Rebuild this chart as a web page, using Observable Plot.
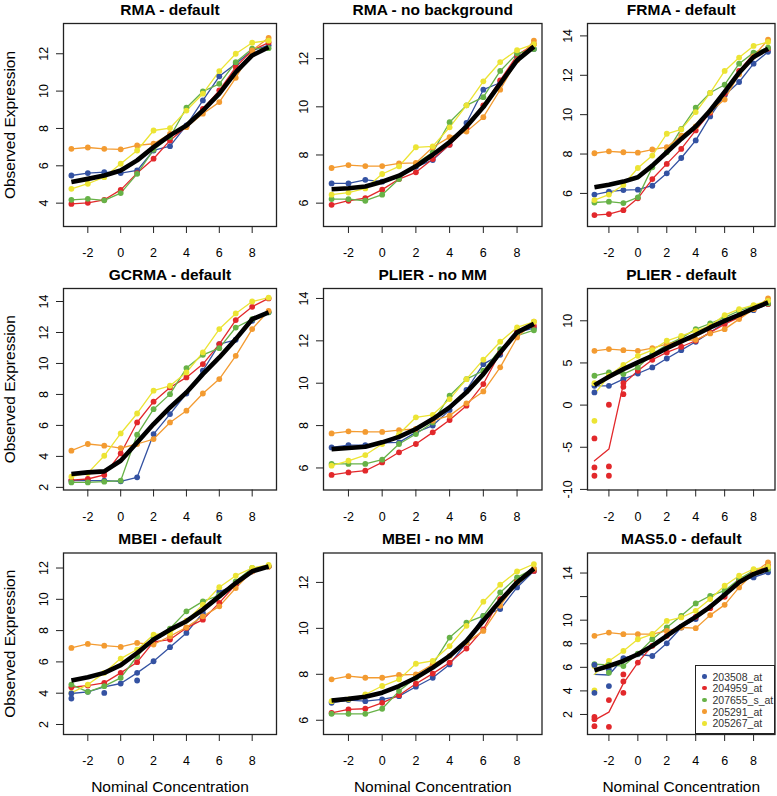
<!DOCTYPE html>
<html><head><meta charset="utf-8">
<script src="https://cdn.jsdelivr.net/npm/d3@7"></script>
<script src="https://cdn.jsdelivr.net/npm/@observablehq/plot@0.6"></script>
<style>
body{margin:0;background:#fff;font-family:"Liberation Sans",Arial,sans-serif;}
#chart{position:relative;width:777px;height:796px;overflow:hidden;}
#chart svg{position:absolute;}
.legend{position:absolute;background:#fff;border:1.3px solid #222;box-sizing:border-box;font-size:10.5px;color:#333;}
.legend .row{position:absolute;left:0;white-space:nowrap;line-height:12px;}
.legend .dot{position:absolute;width:4.5px;height:4.5px;border-radius:50%;top:3.8px;}
</style></head><body><div id="chart"></div><script>
const concentrations = [-3,-2,-1,0,1,2,3,4,5,6,7,8,9];
const probes = ["203508_at","204959_at","207655_s_at","205291_at","205267_at"];
const probeColors = ["#3452A2","#E2282B","#67B247","#F39B31","#ECE434"];
const xTicks = [-2,0,2,4,6,8];

// rows: 203508_at (blue), 204959_at (red), 207655_s_at (green), 205291_at (orange), 205267_at (yellow), mean (black)
const rmaDefault = [
  [5.48,5.61,5.66,5.61,5.75,6.82,7.05,8.16,9.5,10.79,11.46,12.18,12.45],
  [3.96,4.02,4.18,4.71,5.61,6.38,7.36,8.11,9.05,10.04,11.29,12.18,12.6],
  [4.18,4.23,4.15,4.54,5.57,6.86,7.54,9.11,9.98,10.39,11.55,12.27,12.3],
  [6.91,6.98,6.91,6.88,7.09,7.18,7.71,8.07,8.79,9.41,10.71,12.18,12.85],
  [4.77,5.04,5.39,6.11,6.82,7.89,8.02,8.96,9.86,11.07,12.0,12.59,12.7],
  [5.13,5.3,5.48,5.75,6.29,7.0,7.63,8.16,8.96,9.86,11.02,11.91,12.35]
];
const rmaNoBackground = [
  [6.82,6.82,6.97,6.89,7.07,7.51,7.79,8.43,9.33,10.71,11.0,12.07,12.4],
  [5.93,6.1,6.21,6.56,7.0,7.28,7.83,8.42,9.11,10.06,11.1,12.14,12.6],
  [6.17,6.17,6.1,6.35,7.0,7.63,8.11,9.36,10.06,10.4,11.49,12.21,12.4],
  [7.46,7.58,7.54,7.54,7.65,7.67,8.32,8.74,8.97,9.57,10.71,11.93,12.75],
  [6.35,6.44,6.61,7.21,7.53,8.32,8.36,9.15,10.06,11.06,11.86,12.35,12.6],
  [6.58,6.62,6.69,6.89,7.14,7.53,8.01,8.53,9.18,9.99,10.96,11.93,12.5]
];
const frmaDefault = [
  [5.94,6.09,6.17,6.19,6.39,7.02,7.8,8.69,9.91,10.98,11.66,12.59,13.19],
  [4.9,4.95,5.15,5.75,6.73,7.5,8.26,9.2,10.1,11.06,12.22,13.1,13.35],
  [5.54,5.58,5.51,5.8,7.33,8.09,9.28,10.35,11.11,11.52,12.59,13.15,13.4],
  [8.04,8.14,8.09,8.07,8.23,8.35,8.94,9.4,10.16,10.77,12.05,12.96,13.81],
  [5.66,5.94,6.43,7.29,7.92,9.03,9.25,10.13,11.11,12.22,12.9,13.49,13.69],
  [6.31,6.44,6.6,6.82,7.41,8.09,8.77,9.4,10.21,11.15,12.13,12.93,13.35]
];
const gcrmaDefault = [
  [2.43,2.43,2.43,2.39,2.65,5.44,6.73,8.06,9.53,11.25,11.53,12.75,13.3],
  [2.47,2.54,2.8,4.19,6.19,7.53,8.45,9.1,9.96,11.25,12.8,13.66,14.2],
  [2.32,2.32,2.37,2.43,5.4,7.05,8.02,9.7,10.56,10.99,12.32,12.86,13.3],
  [4.37,4.8,4.69,4.54,4.8,5.12,6.19,6.95,8.06,8.99,10.49,12.22,13.4],
  [2.69,2.92,4.04,5.48,6.77,8.24,8.56,9.42,10.71,12.22,13.23,14.0,14.25],
  [2.86,2.97,3.03,3.72,4.9,6.09,7.16,8.13,9.31,10.39,11.57,12.86,13.3]
];
const plierNoMM = [
  [6.97,7.08,7.08,7.18,7.21,7.68,8.0,8.73,9.68,10.9,11.34,12.4,12.6],
  [5.67,5.79,5.87,6.26,6.74,7.13,7.68,8.26,8.94,9.96,11.45,12.4,12.7],
  [6.19,6.19,6.19,6.39,7.13,7.6,8.15,9.41,10.19,10.59,11.61,12.24,12.5],
  [7.63,7.73,7.7,7.7,7.79,7.84,8.23,8.47,9.05,9.61,10.75,12.16,12.9],
  [6.11,6.34,6.61,7.13,7.6,8.39,8.51,9.25,10.19,11.11,11.96,12.63,12.9],
  [6.89,6.94,7.0,7.21,7.47,7.84,8.31,8.86,9.57,10.43,11.45,12.4,12.8]
];
const plierDefault = [
  [2.29,2.29,3.08,3.75,4.47,5.53,6.52,7.51,8.62,9.8,10.59,11.26,11.98],
  [-6.6,-5.22,2.49,4.07,5.38,6.25,6.92,7.63,8.62,9.6,10.4,11.38,11.98],
  [3.48,3.87,3.68,4.47,6.05,7.15,7.94,9.01,9.68,10.4,11.19,11.78,12.06],
  [6.44,6.64,6.52,6.44,6.76,7.23,7.63,7.75,8.5,9.01,10.2,11.38,12.65],
  [1.3,3.48,4.78,5.85,6.52,7.63,8.22,8.81,9.41,10.67,11.38,11.86,12.37],
  [2.37,3.36,4.27,5.06,5.85,6.76,7.55,8.34,9.21,10.0,10.71,11.46,12.17]
];
const mbeiDefault = [
  [3.98,4.09,4.4,4.62,5.3,6.04,6.94,7.85,9.13,10.47,10.94,11.79,12.1],
  [4.38,4.49,4.66,5.3,5.98,7.28,7.43,8.17,8.7,9.77,10.94,11.79,12.1],
  [4.55,4.09,4.45,4.98,6.36,7.53,8.13,9.23,9.87,10.26,11.15,12.0,12.1],
  [6.89,7.15,7.04,6.96,7.21,7.11,7.64,8.21,8.91,9.55,10.72,11.79,12.1],
  [4.02,4.55,5.3,6.21,6.79,7.74,7.85,8.64,9.66,10.77,11.51,12.0,12.2],
  [4.81,5.02,5.3,5.79,6.57,7.43,8.06,8.6,9.34,10.19,11.04,11.79,12.1]
];
const mbeiNoMM = [
  [6.76,6.88,6.83,6.91,7.05,7.46,7.85,8.43,9.38,10.54,10.84,11.78,12.5],
  [6.32,6.47,6.5,6.76,7.09,7.59,8.03,8.51,9.12,9.96,11.27,12.07,12.5],
  [6.28,6.28,6.28,6.5,7.27,7.85,8.43,9.6,10.25,10.54,11.56,12.22,12.6],
  [7.78,7.92,7.85,7.85,7.97,8.0,8.43,8.8,9.38,9.89,10.98,12.0,12.6],
  [6.83,6.91,7.12,7.49,7.78,8.46,8.58,9.23,10.11,11.16,11.9,12.48,12.8],
  [6.86,6.93,7.02,7.2,7.49,7.85,8.29,8.8,9.45,10.33,11.2,12.0,12.6]
];
const mas5Default = [
  [5.4,5.35,6.77,7.11,6.96,8.04,9.38,10.09,11.08,12.21,13.35,13.63,14.06],
  [1.52,2.2,4.64,6.4,7.82,8.67,9.43,10.28,11.02,11.99,13.35,14.06,14.62],
  [6.26,6.2,6.11,7.16,8.38,9.38,10.37,11.42,12.07,12.5,13.49,14.2,14.34],
  [8.67,8.95,8.81,8.81,8.81,9.09,9.38,9.32,10.43,11.3,12.78,14.0,14.91],
  [5.4,6.54,7.39,8.38,8.81,9.94,10.23,10.79,11.79,12.92,13.77,14.34,14.54],
  [5.74,6.11,6.54,7.11,7.82,8.67,9.52,10.28,11.13,12.16,13.21,13.91,14.34]
];

// individual replicate points where they differ from the line: [series, concentration, value]
const plierDefaultPoints = [
  [0,-3,2.29],[0,-3,1.5],
  [4,-3,2.6],[4,-3,-1.86],
  [1,-3,-3.95],[1,-3,-7.39],[1,-3,-8.38],
  [1,-2,0.04],[1,-2,-7.27],[1,-2,-8.38],
  [1,-1,1.3],[1,-1,2.17],[1,-1,2.61]
];
const mas5Points = [
  [4,-3,6.11],[4,-3,4.04],
  [0,-3,6.2],[0,-3,3.84],[0,-2,5.8],[0,-2,4.41],
  [1,-3,1.8],[1,-3,1.6],[1,-3,1.01],
  [1,-2,3.22],[1,-2,0.95],
  [1,-1,5.4],[1,-1,4.8],[1,-1,3.84],
  [2,-2,6.2],[2,-2,5.55]
];
const mbeiDefaultPoints = [
  [0,-3,3.98],[0,-3,3.66],[0,-1,4.02],[0,1,5.3],[0,1,4.81]
];

const panelTitles = ["RMA - default","RMA - no background","FRMA - default","GCRMA - default","PLIER - no MM","PLIER - default","MBEI - default","MBEI - no MM","MAS5.0 - default"];
const panelData = [rmaDefault, rmaNoBackground, frmaDefault, gcrmaDefault, plierNoMM, plierDefault, mbeiDefault, mbeiNoMM, mas5Default];
const panelPoints = [[],[],[],[],[],plierDefaultPoints,mbeiDefaultPoints,[],mas5Points];
const panelYDomains = [[2.75,13.62],[5.03,13.46],[4.32,14.63],[1.83,14.84],[4.96,14.47],[-10.07,13.83],[1.36,12.96],[5.38,13.28],[0.30,15.7]];
const panelYTicks = [[4,6,8,10,12],[6,8,10,12],[6,8,10,12,14],[2,4,6,8,10,12,14],[6,8,10,12,14],[-10,-5,0,5,10],[2,4,6,8,10,12],[6,8,10,12],[2,4,6,8,10,12,14]];
const panelHiddenTickLabels = [[],[],[],[],[],[],[],[],[12]];

const chart = document.getElementById("chart");
const colSvgLeft = [0,280,545], colMarginLeft = [63,43,42], colBoxW = [213,218.5,187.5];
const rowSvgTop = [0,261,519.5], rowMarginTop = [23,27,32.5], rowBoxH = [203,201.5,181.5], rowMarginBottom = [35,30,62.5];
const font = "'Liberation Sans', Arial, sans-serif";

panelData.forEach((data, i) => {
  const col = i % 3, row = Math.floor(i / 3);
  const lineData = [], meanData = [], dotData = [];
  const pts = panelPoints[i];
  data.forEach((vals, si) => vals.forEach((v, k) => {
    const x = concentrations[k];
    if (si === 5) { meanData.push({x, y: v}); return; }
    lineData.push({probe: probes[si], x, y: v});
    if (!pts.some(p => p[0] === si && p[1] === x)) dotData.push({probe: probes[si], x, y: v});
  }));
  pts.forEach(([si, x, y]) => dotData.push({probe: probes[si], x, y}));
  const hidden = panelHiddenTickLabels[i];
  const marks = [
    Plot.line(lineData, {x: "x", y: "y", z: "probe", stroke: "probe", strokeWidth: 1.3}),
    Plot.dot(dotData, {x: "x", y: "y", fill: "probe", r: 2.9}),
    Plot.line(meanData, {x: "x", y: "y", stroke: "black", strokeWidth: 4.6, strokeLinejoin: "round", strokeLinecap: "butt"}),
    Plot.frame({stroke: "#222", strokeWidth: 1.3}),
    Plot.axisX(xTicks, {tickSize: 7, tickPadding: 15, tickFormat: d => String(d), fontSize: 12.5, stroke: "#222"}),
    Plot.axisY(panelYTicks[i], {tickSize: 7, tickRotate: -90, tickPadding: 9, tickFormat: d => hidden.includes(d) ? "" : String(d), fontSize: 12.5, stroke: "#222"}),
    Plot.text([panelTitles[i]], {text: d => d, frameAnchor: "top", dy: -13.5, fontWeight: "bold", fontSize: 15.5, lineAnchor: "middle"})
  ];
  if (col === 0) marks.push(Plot.text(["Observed Expression"], {text: d => d, frameAnchor: "left", dx: -53.5, rotate: -90, textAnchor: "middle", lineAnchor: "middle", fontSize: 15.5}));
  if (row === 2) marks.push(Plot.text(["Nominal Concentration"], {text: d => d, frameAnchor: "bottom", dy: 53, textAnchor: "middle", lineAnchor: "middle", fontSize: 15.5}));
  const svg = Plot.plot({
    width: colMarginLeft[col] + colBoxW[col] + 3,
    height: rowMarginTop[row] + rowBoxH[row] + rowMarginBottom[row],
    marginLeft: colMarginLeft[col], marginRight: 3,
    marginTop: rowMarginTop[row], marginBottom: rowMarginBottom[row],
    x: {domain: [-3.48, 9.48], label: null},
    y: {domain: panelYDomains[i], label: null},
    color: {domain: probes, range: probeColors},
    style: {background: "transparent", fontFamily: font, fontSize: "12.5px", overflow: "visible", color: "black", maxWidth: "none"},
    marks
  });
  svg.style.left = colSvgLeft[col] + "px";
  svg.style.top = rowSvgTop[row] + "px";
  chart.append(svg);
});

// legend in the last panel
const legend = document.createElement("div");
legend.className = "legend";
Object.assign(legend.style, {left: "695px", top: "665px", width: "80px", height: "69px"});
probes.forEach((p, k) => {
  const r = document.createElement("div");
  r.className = "row";
  r.style.top = (4.5 + k * 11.7) + "px";
  const d = document.createElement("span");
  d.className = "dot";
  d.style.background = probeColors[k];
  d.style.left = "6px";
  const t = document.createElement("span");
  t.textContent = p;
  t.style.position = "absolute";
  t.style.left = "16.5px";
  r.append(d, t);
  legend.append(r);
});
chart.append(legend);
</script></body></html>
